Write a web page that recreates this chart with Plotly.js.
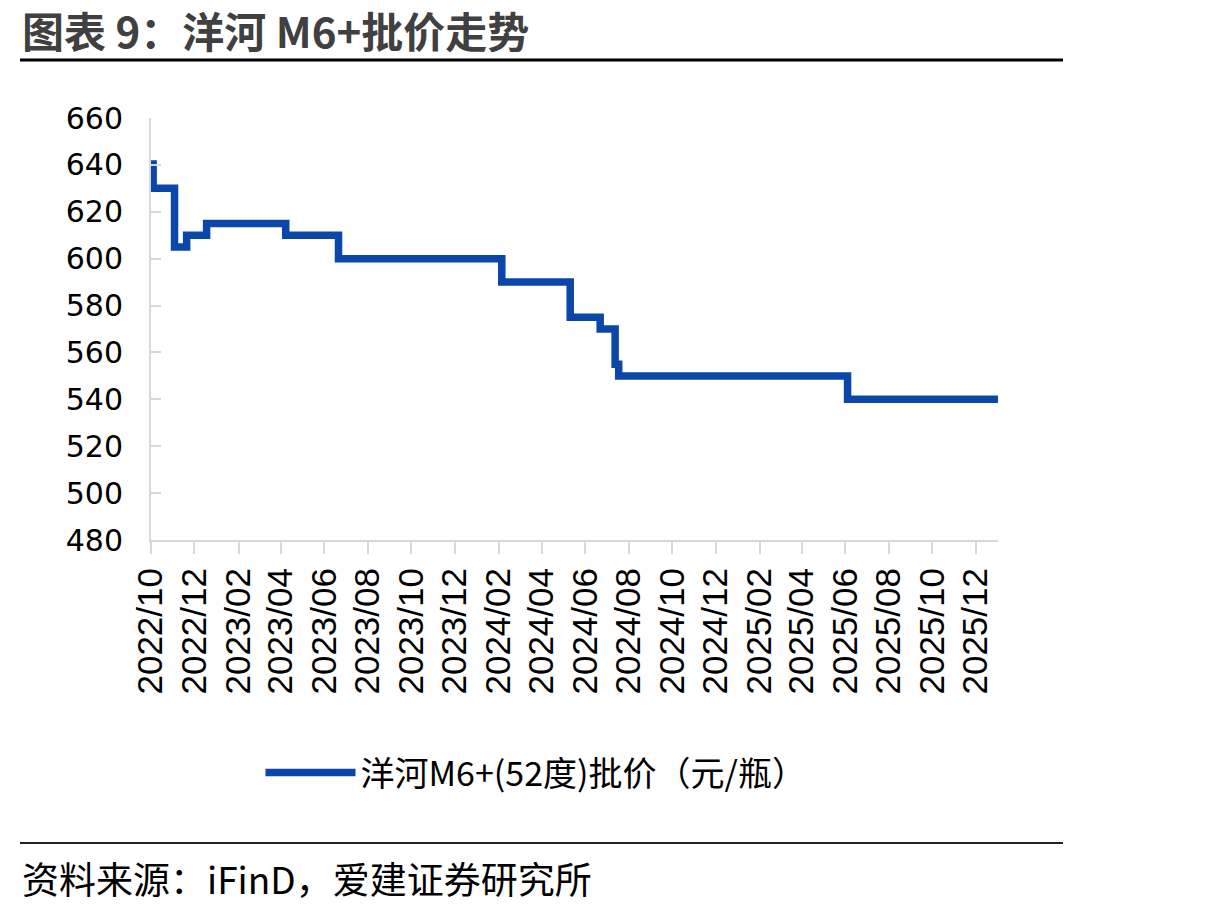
<!DOCTYPE html>
<html>
<head>
<meta charset="utf-8">
<script src="https://cdn.plot.ly/plotly-3.0.1.min.js"></script>
<style>
html,body{margin:0;padding:0;background:#fff;}
#chart{width:1212px;height:910px;}
</style>
</head>
<body>
<div id="chart"></div>
<script>
// Data
const dates = ['2022-10-04','2022-10-04','2022-11-03','2022-11-20','2022-12-18','2023-04-08','2023-06-21',
               '2024-02-05','2024-05-11','2024-06-22','2024-07-13','2024-07-18','2025-06-04','2026-01-01'];
const prices = [642, 630, 605, 610, 615, 610, 600, 590, 575, 570, 555, 550, 540, 540];
const tickDates = ['2022-10-01','2022-12-01','2023-02-01','2023-04-01','2023-06-01','2023-08-01','2023-10-01',
                   '2023-12-01','2024-02-01','2024-04-01','2024-06-01','2024-08-01','2024-10-01','2024-12-01',
                   '2025-02-01','2025-04-01','2025-06-01','2025-08-01','2025-10-01','2025-12-01'];
const tickLabels = ['2022/10','2022/12','2023/02','2023/04','2023/06','2023/08','2023/10','2023/12',
                    '2024/02','2024/04','2024/06','2024/08','2024/10','2024/12','2025/02','2025/04',
                    '2025/06','2025/08','2025/10','2025/12'];
const seriesName = '洋河M6+(52度)批价（元/瓶）';
const titleText = '图表 9：洋河 M6+批价走势';
const sourceText = '资料来源：iFinD，爱建证券研究所';

const L = 151, R = 998, T = 118, B = 540, W = 1212, H = 910;
const pw = R - L, ph = B - T;
const px = x => (x - L) / pw;
const py = y => (B - y) / ph;

const trace = {
  x: dates, y: prices, type: 'scatter', mode: 'lines', name: seriesName,
  line: {color: '#0a47a9', width: 7.5, shape: 'hv'}
};

const layout = {
  width: W, height: H,
  margin: {l: L, r: W - R, t: T, b: H - B, pad: 0},
  paper_bgcolor: '#fff', plot_bgcolor: '#fff',
  showlegend: true,
  xaxis: {
    type: 'date', range: ['2022-10-01', '2026-01-01'],
    tickmode: 'array', tickvals: tickDates, ticktext: tickLabels,
    tickangle: -90, showgrid: false, zeroline: false,
    showline: true, linecolor: '#d9d9d9', linewidth: 2,
    ticks: 'outside', ticklen: 12, tickwidth: 2, tickcolor: '#d9d9d9',
    tickfont: {family: 'Liberation Sans, Arial', size: 35, color: '#000'},
    fixedrange: true
  },
  yaxis: {
    range: [480, 660], dtick: 20, tick0: 480, showgrid: false, zeroline: false,
    showline: true, linecolor: '#d9d9d9', linewidth: 2,
    ticks: 'inside', ticklen: 10, tickwidth: 2, tickcolor: '#d9d9d9',
    ticklabelstandoff: 20,
    tickfont: {family: 'DejaVu Sans', size: 30, color: '#000'},
    fixedrange: true
  },
  legend: {
    xref: 'container', yref: 'container',
    x: 536 / W, xanchor: 'center', y: 1 - 773 / H, yanchor: 'middle',
    orientation: 'h', itemwidth: 90,
    font: {family: 'Noto Sans CJK SC', size: 34, color: '#000'},
    bgcolor: 'rgba(0,0,0,0)'
  },
  shapes: [
    {type: 'line', xref: 'paper', yref: 'paper', x0: px(20), x1: px(1063), y0: py(60), y1: py(60),
     line: {color: '#000', width: 3}},
    {type: 'line', xref: 'paper', yref: 'paper', x0: px(20), x1: px(1063), y0: py(843), y1: py(843),
     line: {color: '#222', width: 2}}
  ],
  annotations: [
    {text: '<b>' + titleText + '</b>', xref: 'paper', yref: 'paper', x: px(20), y: py(29),
     xanchor: 'left', yanchor: 'middle', showarrow: false,
     font: {family: 'Noto Sans CJK SC', size: 42, color: '#404040'}},
    {text: sourceText, xref: 'paper', yref: 'paper', x: px(20), y: py(878),
     xanchor: 'left', yanchor: 'middle', showarrow: false,
     font: {family: 'Noto Sans CJK SC', size: 37, color: '#000'}}
  ]
};

Plotly.newPlot('chart', [trace], layout, {displayModeBar: false, staticPlot: true});
</script>
</body>
</html>
